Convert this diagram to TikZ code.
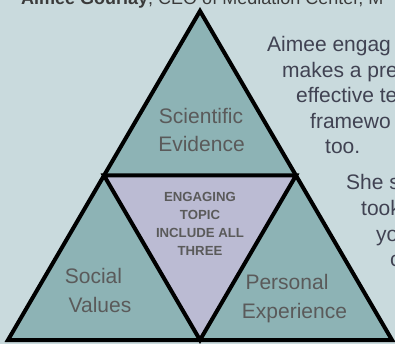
\documentclass[tikz,border=0pt]{standalone}
\usepackage{fontspec}
\setmainfont{Liberation Sans}
\definecolor{bgpale}{HTML}{C9DADD}
\definecolor{tealfill}{HTML}{8DB3B5}
\definecolor{lavfill}{HTML}{BBBBD3}
\definecolor{labelgrey}{HTML}{5A5A5A}
\definecolor{bodytext}{HTML}{404252}
\definecolor{headtext}{HTML}{3A3A3A}
\begin{document}
\begin{tikzpicture}[x=1pt,y=-1pt,
  edge/.style={draw=black,line width=4pt,line join=miter},
  biglabel/.style={inner sep=0pt,anchor=base,text=labelgrey,font=\fontsize{21}{25}\selectfont},
  corelabel/.style={inner sep=0pt,anchor=base,text=labelgrey,font=\fontsize{13.2}{16}\selectfont\bfseries},
  sidetext/.style={inner sep=0pt,anchor=base west,text=bodytext,font=\fontsize{21}{25}\selectfont},
  headline/.style={inner sep=0pt,anchor=base west,text=headtext,font=\fontsize{18}{22}\selectfont}]
\useasboundingbox (0,0) rectangle (395,344);
\clip (0,0) rectangle (395,344);
\fill[bgpale] (0,0) rectangle (395,344);

% speaker line across the top
\node[headline] (head) at (21,5) {\textbf{Aimee Gourlay}, CEO of Mediation Center, M};

% corners of the outer triangle and the midpoints of its sides
\coordinate (top) at (200,11);
\coordinate (bl) at (8,340);
\coordinate (br) at (392,340);
\coordinate (ml) at (104,175.5);
\coordinate (mr) at (296,175.5);
\coordinate (mb) at (200,340);

\fill[tealfill] (top) -- (bl) -- (br) -- cycle;
\fill[lavfill] (ml) -- (mr) -- (mb) -- cycle;
\draw[edge] (top) -- (bl) -- (br) -- cycle;
\draw[edge] (ml) -- (mr) -- (mb) -- cycle;

% the three outer triangles
\node[biglabel] (sci1) at (201,124) {Scientific};
\node[biglabel] (sci2) at (201.5,152) {Evidence};
\node[biglabel] (soc1) at (93.5,283) {Social};
\node[biglabel] (soc2) at (100,312) {Values};
\node[biglabel] (per1) at (287,289) {Personal};
\node[biglabel] (per2) at (294.5,318) {Experience};

% the inner triangle
\node[corelabel] (core1) at (200,201) {ENGAGING};
\node[corelabel] (core2) at (200,219) {TOPIC};
\node[corelabel] (core3) at (200,237) {INCLUDE ALL};
\node[corelabel] (core4) at (200,255) {THREE};

% text running down beside the right edge
\node[sidetext] (s1) at (267,52) {Aimee engag};
\node[sidetext] (s2) at (282,77.5) {makes a pre};
\node[sidetext] (s3) at (296,103) {effective te};
\node[sidetext] (s4) at (310,128.5) {framewo};
\node[sidetext] (s5) at (325,154) {too.};
\node[sidetext] (s6) at (346,190) {She s};
\node[sidetext] (s7) at (361,215.5) {took};
\node[sidetext] (s8) at (376,241) {yo};
\node[sidetext] (s9) at (390,266.5) {c};
\end{tikzpicture}
\end{document}
